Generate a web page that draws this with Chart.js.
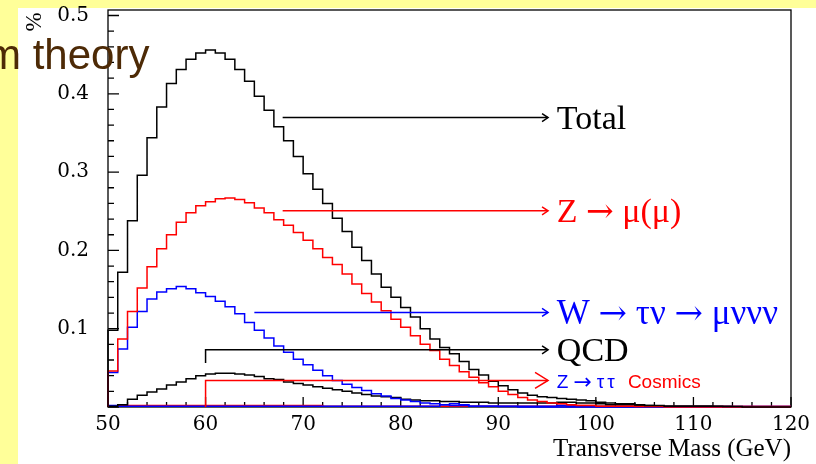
<!DOCTYPE html>
<html><head><meta charset="utf-8">
<script src="https://cdn.jsdelivr.net/npm/chart.js@4/dist/chart.umd.min.js"></script>
<style>
html,body{margin:0;padding:0;background:#FFFF99;width:816px;height:464px;overflow:hidden}
#panel{position:absolute;left:18px;top:8px;width:798px;height:456px;background:#fff}
#c{position:absolute;left:0;top:0}
#slide{position:absolute;left:-14px;top:34px;font-family:"Liberation Sans",Arial,sans-serif;font-size:42px;line-height:42px;color:#4d2a06;white-space:nowrap}
</style></head><body>
<div id="panel"></div>
<canvas id="c" width="816" height="464"></canvas>
<div id="slide">m theory</div>
<script>
// bin edges (GeV)
const binEdges = [50,51,52,53,54,55,56,57,58,59,60,61,62,63,64,65,66,67,68,69,70,71,72,73,74,75,76,77,78,79,80,81,82,83,84,85,86,87,88,89,90,91,92,93,94,95,96,97,98,99,100,101,102,103,104,105,106,107,108,109,110,111,112,113,114,115,116,117,118,119,120];

const xTickLabels = [50,60,70,80,90,100,110,120];
const yTickLabels = [0.1,0.2,0.3,0.4,0.5];

// series values (%), one per 1 GeV bin
const total = [
0.098,0.172,0.238,0.296,0.344,0.383,0.413,0.431,0.444,0.452,
0.456,0.452,0.444,0.431,0.416,0.397,0.379,0.358,0.340,0.320,
0.298,0.278,0.260,0.241,0.224,0.204,0.187,0.170,0.153,0.140,
0.127,0.115,0.100,0.087,0.076,0.068,0.058,0.048,0.041,0.033,
0.027,0.022,0.018,0.015,0.013,0.012,0.011,0.010,0.009,0.008,
0.006,0.005,0.004,0.004,0.003,0.002,0.002,0.001,0.001,0.001,
0.001,0.001,0.001,0.0005,0.0005,0,0,0,0,0];

const zmumu = [
0.046,0.087,0.122,0.152,0.179,0.202,0.220,0.236,0.248,0.257,
0.262,0.266,0.267,0.265,0.261,0.254,0.248,0.239,0.232,0.223,
0.213,0.202,0.191,0.182,0.170,0.157,0.145,0.134,0.123,0.112,
0.102,0.091,0.080,0.072,0.061,0.053,0.045,0.038,0.031,0.026,
0.020,0.016,0.012,0.009,0.007,0.005,0.004,0.003,0.002,0.002,
0.001,0.001,0.001,0.001,0.0005,0.0005,0.0005,0,0,0,
0,0,0,0,0,0,0,0,0,0];

const wtaunu = [
0.044,0.074,0.102,0.122,0.138,0.147,0.151,0.154,0.151,0.146,
0.141,0.135,0.128,0.119,0.108,0.098,0.088,0.078,0.070,0.061,
0.054,0.047,0.040,0.034,0.029,0.025,0.021,0.017,0.014,0.011,
0.009,0.007,0.005,0.004,0.003,0.002,0.002,0.001,0.001,0.001,
0.0005,0.0005,0,0,0,0,0,0,0,0,
0,0,0,0,0,0,0,0,0,0,
0,0,0,0,0,0,0,0,0,0];

const qcd = [
0.001,0.003,0.010,0.015,0.019,0.023,0.028,0.032,0.036,0.040,
0.042,0.043,0.043,0.042,0.041,0.039,0.036,0.035,0.032,0.030,
0.028,0.026,0.024,0.022,0.020,0.018,0.016,0.014,0.013,0.012,
0.010,0.009,0.008,0.008,0.007,0.007,0.006,0.006,0.006,0.005,
0.005,0.005,0.005,0.005,0.005,0.005,0.006,0.006,0.005,0.005,
0.004,0.003,0.003,0.003,0.002,0.002,0.001,0.001,0.001,0.001,
0.001,0.001,0.0005,0.0005,0,0,0,0,0,0];

const ztautau = [
0.002,0.001,0.001,0.001,0.001,0.001,0.001,0.001,0.001,0.001,
0.001,0.001,0.001,0.001,0.001,0.001,0.001,0.001,0.001,0.001,
0.001,0.001,0.001,0.001,0.001,0.001,0.001,0.001,0.001,0.001,
0.001,0.001,0.001,0.001,0.003,0.004,0.003,0.001,0.001,0.001,
0.001,0.001,0.001,0.001,0.001,0.001,0.002,0.001,0.001,0.001,
0.0005,0.0005,0.0005,0.0005,0.0005,0.0005,0.0005,0.0005,0.0005,0.0005,
0.0005,0.0005,0.0005,0.0005,0.0005,0.0005,0.0005,0.0005,0.0005,0.0005];

const cosmics = [
0.001,0.002,0.002,0.002,0.002,0.002,0.002,0.002,0.002,0.002,
0.002,0.002,0.002,0.002,0.002,0.002,0.002,0.002,0.002,0.002,
0.002,0.002,0.001,0.001,0.001,0.001,0.001,0.001,0.001,0.001,
0.001,0.001,0.001,0.001,0.001,0.001,0.001,0.001,0.001,0.001,
0.001,0.001,0.001,0.001,0.001,0.001,0.002,0.002,0.002,0.002,
0.001,0.001,0.001,0.001,0.001,0.001,0.001,0.001,0.001,0.001,
0.001,0.001,0.001,0.001,0.001,0.001,0.001,0.001,0.001,0.001];

// annotation arrows (data units: GeV, %)
const arrowTipX = 95.1;
const labelStartX = 96.0;
const SERIF = '34px "Liberation Serif"';
const SERIFW = '35px "Liberation Serif"';
const ARROWF = '33px "DejaVu Serif"';
const ARROWW = '34px "DejaVu Serif"';
const SANS = '19px "Liberation Sans"';
const SANSARROW = '22px "DejaVu Sans"';
const annotations = [
  {y:0.3697, xStart:67.9, dropTo:null, color:'#000000', head:[6,4],
   parts:[['Total','#000000',SERIF,0]]},
  {y:0.2506, xStart:67.9, dropTo:null, color:'#ff0000', head:[6,4],
   parts:[['Z ','#ff0000',SERIF,0],['\u2192','#ff0000',ARROWF,0],[' \u03bc(\u03bc)','#ff0000',SERIF,0]]},
  {y:0.1208, xStart:65.0, dropTo:null, color:'#0000ff', head:[6,4],
   parts:[['W ','#0000ff',SERIFW,0],['\u2192','#0000ff',ARROWW,0],[' \u03c4\u03bd ','#0000ff',SERIFW,0],['\u2192','#0000ff',ARROWW,0],[' \u03bc\u03bd\u03bd\u03bd','#0000ff',SERIFW,0]]},
  {y:0.0731, xStart:60.0, dropTo:0.0562, color:'#000000', head:[6,4],
   parts:[['QCD','#000000',SERIF,0]]},
  {y:0.0340, xStart:60.0, dropTo:0, color:'#ff0000', head:[13,8],
   parts:[['Z','#0000ff',SANS,5],['\u2192','#0000ff',SANSARROW,5],['\u03c4','#0000ff',SANS,3],['\u03c4','#0000ff',SANS,13],['Cosmics','#ff0000',SANS,0]]}
];

function histPoints(vals){
  const pts=[{x:binEdges[0],y:0}];
  vals.forEach((v,i)=>pts.push({x:binEdges[i],y:v}));
  pts.push({x:binEdges[vals.length],y:vals[vals.length-1]});
  return pts;
}
function ds(label,vals,color){
  return {label,data:histPoints(vals),borderColor:color,borderWidth:1.5,fill:false,
          stepped:'before',pointRadius:0,clip:4,tension:0};
}

const framePlugin = {
  id:'frame',
  beforeDatasetsDraw(chart){
    const {ctx,chartArea:a,scales:{x,y}}=chart;
    ctx.save();
    ctx.strokeStyle='#000'; ctx.lineWidth=1.3;
    ctx.strokeRect(a.left,a.top,a.right-a.left,a.bottom-a.top);
    ctx.beginPath();
    for(let k=0;k<=25;k++){
      const v=k*0.02; if(v>y.max) break;
      const py=y.getPixelForValue(v);
      const len=(k%5===0)?11:6;
      ctx.moveTo(a.left,py); ctx.lineTo(a.left+len,py);
    }
    for(let g=x.min; g<=x.max; g+=2){
      const px=x.getPixelForValue(g);
      const len=(g%10===0)?10:5;
      ctx.moveTo(px,a.bottom); ctx.lineTo(px,a.bottom-len);
    }
    ctx.stroke();
    ctx.restore();
  },
  afterDatasetsDraw(chart){
    const {ctx,scales:{x,y}}=chart;
    ctx.save();
    annotations.forEach(an=>{
      const py=y.getPixelForValue(an.y);
      const x0=x.getPixelForValue(an.xStart), x1=x.getPixelForValue(arrowTipX);
      ctx.strokeStyle=an.color; ctx.lineWidth=1.5;
      ctx.beginPath();
      if(an.dropTo!==null){ctx.moveTo(x0,y.getPixelForValue(an.dropTo)); ctx.lineTo(x0,py);}
      else ctx.moveTo(x0,py);
      ctx.lineTo(x1,py); ctx.stroke();
      const [hl,hw]=an.head;
      ctx.beginPath(); ctx.moveTo(x1-hl,py-hw); ctx.lineTo(x1,py); ctx.lineTo(x1-hl,py+hw); ctx.stroke();
      let tx=x.getPixelForValue(labelStartX);
      ctx.textBaseline='middle'; ctx.textAlign='left';
      an.parts.forEach(([t,c,f,extra])=>{
        ctx.font=f; ctx.fillStyle=c;
        ctx.fillText(t,tx,py+2.5);
        tx+=ctx.measureText(t).width+extra;
      });
    });
    ctx.restore();
  },
  afterDraw(chart){
    const {ctx}=chart;
    ctx.save();
    ctx.translate(35,22); ctx.rotate(-Math.PI/2);
    ctx.font='23px "Liberation Serif"'; ctx.fillStyle='#000';
    ctx.textAlign='center'; ctx.textBaseline='middle';
    ctx.fillText('%',0,0);
    ctx.restore();
  }
};

new Chart(document.getElementById('c'),{
  type:'line',
  data:{datasets:[
    ds('Total',total,'#000000'),
    ds('Z \u2192 \u03bc(\u03bc)',zmumu,'#ff0000'),
    ds('W \u2192 \u03c4\u03bd \u2192 \u03bc\u03bd\u03bd\u03bd',wtaunu,'#0000ff'),
    ds('QCD',qcd,'#000000'),
    ds('Z \u2192 \u03c4\u03c4',ztautau,'#0000ff'),
    ds('Cosmics',cosmics,'#ff0000')
  ]},
  options:{
    responsive:false, animation:false, devicePixelRatio:1,
    layout:{padding:{left:0,right:25,top:10,bottom:0}},
    plugins:{legend:{display:false},tooltip:{enabled:false}},
    elements:{point:{radius:0}},
    scales:{
      x:{type:'linear',min:50,max:120,
        afterBuildTicks:s=>{s.ticks=xTickLabels.map(v=>({value:v}));},
        afterFit:s=>{s.height=57; s.paddingLeft=0; s.paddingRight=0;},
        grid:{display:false,drawTicks:false},border:{display:false},
        ticks:{padding:6,color:'#000',maxRotation:0,autoSkip:false,
               font:{family:'DejaVu Serif',size:20},callback:v=>String(v)},
        title:{display:true,text:'Transverse Mass (GeV)',align:'end',color:'#000',
               font:{family:'Liberation Serif',size:25},padding:0}
      },
      y:{type:'linear',min:0,max:0.507,
        afterBuildTicks:s=>{s.ticks=yTickLabels.map(v=>({value:v}));},
        afterFit:s=>{s.width=108; s.paddingTop=0; s.paddingBottom=0;},
        grid:{display:false,drawTicks:false},border:{display:false},
        ticks:{padding:19,color:'#000',autoSkip:false,
               font:{family:'DejaVu Serif',size:20},callback:v=>Number(v).toFixed(1)}
      }
    }
  },
  plugins:[framePlugin]
});
</script>
</body></html>
